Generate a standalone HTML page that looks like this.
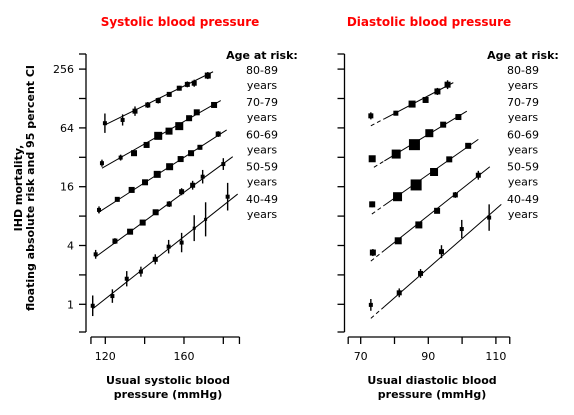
<!DOCTYPE html>
<html><head><meta charset="utf-8"><style>
body{margin:0;background:#fff;}
svg{display:block;font-family:"DejaVu Sans","Liberation Sans",sans-serif;}
</style></head><body>
<svg id="chart" width="574" height="415" viewBox="0 0 574 415">
<text x="180" y="26" text-anchor="middle" font-size="12" font-weight="bold" fill="#f00">Systolic blood pressure</text>
<text x="429" y="26" text-anchor="middle" font-size="12" font-weight="bold" fill="#f00">Diastolic blood pressure</text>
<g transform="translate(22,188) rotate(-90)">
<text x="0" y="0" text-anchor="middle" font-size="11" font-weight="bold">IHD mortality,</text>
<text x="0" y="12" text-anchor="middle" font-size="11" font-weight="bold">floating absolute risk and 95 percent CI</text>
</g>
<g>
<text x="168" y="384" text-anchor="middle" font-size="11" font-weight="bold">Usual systolic blood</text>
<text x="168" y="398" text-anchor="middle" font-size="11" font-weight="bold">pressure (mmHg)</text>
</g>
<g>
<text x="432" y="384" text-anchor="middle" font-size="11" font-weight="bold">Usual diastolic blood</text>
<text x="432" y="398" text-anchor="middle" font-size="11" font-weight="bold">pressure (mmHg)</text>
</g>
</svg>
<script>
const yTickLabels = ["1","4","16","64","256"];
const yTickLog = [0,2,4,6,8];
const groups = ["80-89","70-79","60-69","50-59","40-49"];
const sbpTicks = [120,140,160,180];
const sbpTickLabels = ["120","","160",""];
const sbpX = [
 [119.8,128.8,135.1,141.6,146.9,152.5,157.6,161.7,165.2,172.1],
 [118.3,127.8,134.6,141.0,146.9,152.4,157.6,162.6,166.5,175.3],
 [116.8,126.1,133.4,140.2,146.4,152.7,158.3,163.6,168.1,177.4],
 [115.1,124.9,132.6,139.0,145.6,152.5,158.8,164.4,169.5,180.0],
 [113.6,123.6,130.9,138.1,145.4,152.2,158.8,165.2,171.0,182.2]];
const sbpLog = [
 [6.16,6.27,6.57,6.78,6.93,7.14,7.35,7.48,7.52,7.78],
 [4.80,4.99,5.14,5.42,5.73,5.89,6.06,6.33,6.53,6.78],
 [3.21,3.57,3.89,4.15,4.42,4.68,4.94,5.14,5.34,5.79],
 [1.70,2.15,2.47,2.78,3.13,3.41,3.83,4.05,4.34,4.77],
 [-0.05,0.28,0.87,1.11,1.53,1.96,2.10,2.59,2.89,3.66]];
const sbpErr = [
 [0.33,0.19,0.16,0.1,0.1,0.08,0.08,0.1,0.12,0.12],
 [0.12,0.1,0.08,0.07,0.06,0.06,0.06,0.07,0.08,0.08],
 [0.12,0.08,0.07,0.06,0.06,0.06,0.06,0.07,0.08,0.1],
 [0.15,0.1,0.08,0.07,0.08,0.1,0.12,0.15,0.23,0.2],
 [0.35,0.23,0.26,0.17,0.17,0.23,0.33,0.44,0.58,0.47]];
const sbpSize = [
 [4,4,5,5,5,5,5,5,5,6],
 [4,4,6,6,8,7,8,6,6,6],
 [4,5,6,6,7,7,6,6,5,5],
 [4,5,6,6,6,5,5,5,4,4],
 [4,4,4,4,5,4,4,3,3,4]];
const sbpLines = [[119.8,6.10,174.8,7.91],[118.3,4.63,178.7,6.93],[116.4,3.12,181.7,5.93],[114.8,1.60,184.8,5.02],[113.9,-0.14,187.3,3.75]];
const dbpTicks = [70,80,90,100,110];
const dbpTickLabels = ["70","","90","","110"];
const dbpX = [
 [73.0,80.4,85.2,89.2,92.7,95.7],
 [73.4,80.5,85.9,90.3,94.4,98.9],
 [73.4,80.9,86.4,91.7,96.2,101.8],
 [73.6,81.1,87.2,92.6,98.0,104.8],
 [73.0,81.4,87.7,93.9,99.9,108.0]];
const dbpLog = [
 [6.41,6.50,6.81,6.95,7.24,7.47],
 [4.95,5.11,5.43,5.82,6.11,6.37],
 [3.40,3.66,4.06,4.50,4.93,5.39],
 [1.76,2.16,2.70,3.18,3.72,4.39],
 [-0.02,0.39,1.05,1.79,2.56,2.95]];
const dbpErr = [
 [0.12,0.08,0.07,0.08,0.12,0.15],
 [0.08,0.06,0.05,0.06,0.07,0.08],
 [0.1,0.06,0.05,0.06,0.07,0.08],
 [0.12,0.07,0.06,0.07,0.1,0.15],
 [0.2,0.15,0.15,0.22,0.31,0.45]];
const dbpSize = [
 [5,5,7,6,6,6],
 [7,9,11,8,6,6],
 [6,9,11,8,6,6],
 [6,7,7,6,5,5],
 [4,5,5,5,4,4]];
const dbpLines = [[73.0,6.07,97.4,7.54],[73.9,4.66,101.4,6.57],[73.3,3.07,104.8,5.61],[73.0,1.47,108.2,4.68],[73.0,-0.48,111.6,3.40]];
const dashUntil = 77;

const NS="http://www.w3.org/2000/svg";
const svg=document.getElementById('chart');
const yScale=v=>304.3-v*29.4;
const sx=v=>105.3+(v-120)*1.967;
const dx=v=>360.7+(v-70)*3.38;
function mk(t,a,p){const e=document.createElementNS(NS,t);for(const k in a)e.setAttribute(k,a[k]);(p||svg).appendChild(e);return e;}

function panel(key,axX,xs,xTicks,xLabels,xMin,xMax,X,L,E,S,lines,legendX,labelY,dashed){
  const g=mk('g',{});
  
  
  const ya=mk('g',{stroke:'#000','stroke-width':1.3,fill:'none'},g);
  
  
  mk('line',{x1:axX,y1:54,x2:axX,y2:332},ya);
  mk('line',{x1:axX-7,y1:54,x2:axX,y2:54},ya);
  mk('line',{x1:axX-7,y1:332,x2:axX,y2:332},ya);
  for(let k=0;k<=8;k++){mk('line',{x1:axX-7,y1:yScale(k),x2:axX,y2:yScale(k)},ya);}
  if(labelY){yTickLog.forEach((v,i)=>{const t=mk('text',{x:axX-12,y:yScale(v)+4,'text-anchor':'end','font-size':11,fill:'#000',stroke:'none'},ya);t.textContent=yTickLabels[i];
    
    });}
  const xa=mk('g',{stroke:'#000','stroke-width':1.3,fill:'none'},g);
  
  
  mk('line',{x1:xs(xMin),y1:337,x2:xs(xMax),y2:337},xa);
  mk('line',{x1:xs(xMin),y1:337,x2:xs(xMin),y2:344},xa);
  mk('line',{x1:xs(xMax),y1:337,x2:xs(xMax),y2:344},xa);
  xTicks.forEach((v,i)=>{mk('line',{x1:xs(v),y1:337,x2:xs(v),y2:344},xa);
    if(xLabels[i]){const t=mk('text',{x:xs(v),y:360,'text-anchor':'middle','font-size':11,fill:'#000',stroke:'none'},xa);t.textContent=xLabels[i];
    
    }});
  const lg=mk('g',{'font-size':11,fill:'#000'},g);
  
  
  const h=mk('text',{x:legendX,y:59,'text-anchor':'middle','font-weight':'bold'},lg);h.textContent='Age at risk:';
  groups.forEach((gname,i)=>{const y0=74+i*32.2;
    const a=mk('text',{x:legendX,y:y0,'text-anchor':'middle'},lg);a.textContent=gname;
    
    
    const b=mk('text',{x:legendX,y:y0+15,'text-anchor':'middle'},lg);b.textContent='years';});
  groups.forEach((gname,i)=>{
    const sg=mk('g',{},g);
    
    
    const [a0,b0,a1,b1]=lines[i];
    if(dashed){
      const m=(b1-b0)/(a1-a0);const yd=b0+m*(dashUntil-a0);
      mk('line',{x1:xs(a0),y1:yScale(b0),x2:xs(dashUntil),y2:yScale(yd),stroke:'#000','stroke-width':1,'stroke-dasharray':'4,3'},sg);
      mk('line',{x1:xs(dashUntil),y1:yScale(yd),x2:xs(a1),y2:yScale(b1),stroke:'#000','stroke-width':1},sg);
    } else mk('line',{x1:xs(a0),y1:yScale(b0),x2:xs(a1),y2:yScale(b1),stroke:'#000','stroke-width':1},sg);
    X[i].forEach((xv,j)=>{
      const cx=xs(xv),cy=yScale(L[i][j]),e=E[i][j]*29.4,s=S[i][j];
      mk('line',{x1:cx,y1:cy-e,x2:cx,y2:cy+e,stroke:'#000','stroke-width':1.4},sg);
      const r=mk('rect',{x:cx-s/2,y:cy-s/2,width:s,height:s,fill:'#000'},sg);
      
      
    });
  });
}
panel('systolic',86,sx,sbpTicks,sbpTickLabels,112.7,188.2,sbpX,sbpLog,sbpErr,sbpSize,sbpLines,262,true,false);
panel('diastolic',344.5,dx,dbpTicks,dbpTickLabels,66.3,114.1,dbpX,dbpLog,dbpErr,dbpSize,dbpLines,523,false,true);
</script>
</body></html>
